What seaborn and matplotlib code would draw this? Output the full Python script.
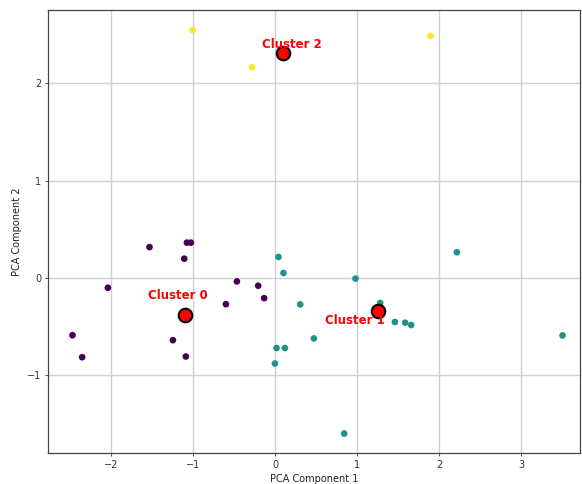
import numpy as np
import pandas as pd
import matplotlib
matplotlib.use("Agg")
import matplotlib.pyplot as plt
import seaborn as sns

# PCA projections of the samples, grouped by K-Means cluster
cluster0_pc1 = [-1.536, -1.079, -1.031, -1.112, -0.469, -2.044, -0.603,
                -2.476, -1.250, -2.358, -1.092, -0.209, -0.136]
cluster0_pc2 = [0.317, 0.363, 0.363, 0.198, -0.036, -0.101, -0.270,
                -0.589, -0.640, -0.815, -0.808, -0.080, -0.208]

cluster1_pc1 = [0.039, 0.100, 0.979, 0.304, 1.281, 1.460, 1.586, 1.659,
                0.471, 0.015, 0.117, -0.005, 0.841, 2.217, 3.507]
cluster1_pc2 = [0.216, 0.051, -0.007, -0.272, -0.257, -0.453, -0.460, -0.484,
                -0.622, -0.721, -0.721, -0.880, -1.600, 0.264, -0.591]

cluster2_pc1 = [-1.011, -0.282, 1.895]
cluster2_pc2 = [2.547, 2.166, 2.488]

# Cluster centres in PCA space
centroid_pc1 = [-1.100, 1.253, 0.100]
centroid_pc2 = [-0.383, -0.344, 2.317]
cluster_ids = [0, 1, 2]

pc1 = cluster0_pc1 + cluster1_pc1 + cluster2_pc1
pc2 = cluster0_pc2 + cluster1_pc2 + cluster2_pc2
labels = ([0] * len(cluster0_pc1) + [1] * len(cluster1_pc1)
          + [2] * len(cluster2_pc1))

df = pd.DataFrame({"pc1": pc1, "pc2": pc2, "cluster": labels})
centers = pd.DataFrame({"pc1": centroid_pc1, "pc2": centroid_pc2,
                        "cluster": cluster_ids})

cmap = matplotlib.colormaps["viridis"]
palette = {c: cmap(c / 2) for c in cluster_ids}

fig = plt.figure(figsize=(5.82, 4.84), dpi=100)
ax = fig.add_axes([48 / 582, 1 - 453 / 484, 532 / 582, 443 / 484])

sns.scatterplot(data=df, x="pc1", y="pc2", hue="cluster", palette=palette,
                s=23, linewidth=0, edgecolor="none", legend=False, ax=ax,
                zorder=3)
sns.scatterplot(data=centers, x="pc1", y="pc2", color="red", s=95,
                edgecolor="black", linewidth=1.5, legend=False, ax=ax,
                zorder=4)

# Cluster names sit at the mean position of each cluster's samples
means = df.groupby("cluster")[["pc1", "pc2"]].mean()
for cid, row in means.iterrows():
    ax.text(row["pc1"], row["pc2"], f"Cluster {cid}", color="red",
            fontsize=8.5, fontweight="bold", ha="center", va="center",
            zorder=5)

ax.set_xlim(-2.775, 3.72)
ax.set_ylim(-1.80, 2.755)
ax.set_xticks([-2, -1, 0, 1, 2, 3])
ax.set_yticks([-1, 0, 1, 2])
ax.grid(True, color="#d0d0d0", linewidth=1.0, zorder=0)
ax.set_axisbelow(True)
for sp in ax.spines.values():
    sp.set_color("#444444")
    sp.set_linewidth(0.9)
ax.tick_params(labelsize=7, colors="#333333", length=2.5, width=0.6, pad=2.5)
ax.set_xlabel("PCA Component 1", fontsize=7, color="#222222", labelpad=2.8)
ax.set_ylabel("PCA Component 2", fontsize=7, color="#222222", labelpad=3.5)

fig.savefig("out.png", dpi=100)
